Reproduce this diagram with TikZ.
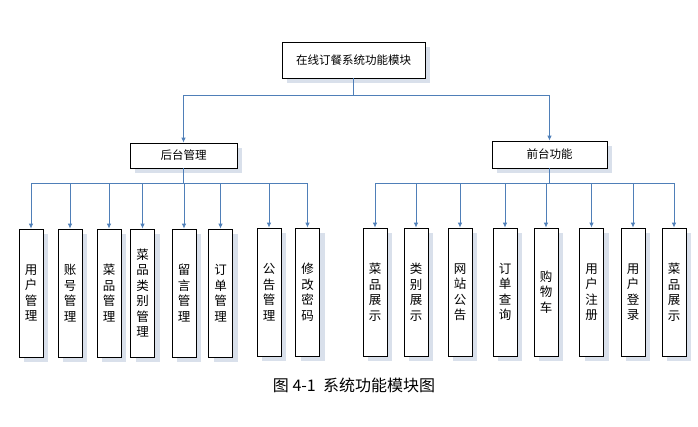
\documentclass[tikz,border=0pt]{standalone}
\usepackage{fontspec}
\setmainfont{Noto Sans CJK SC}
\usepackage{xcolor}
\usepackage{tikz}
\usetikzlibrary{arrows.meta,positioning,calc,shadows}

\definecolor{linkblue}{HTML}{4F7FB8}
\definecolor{shadowgray}{HTML}{D9E0EB}

\tikzset{
  modbox/.style={draw=black,fill=white,line width=0.8pt,inner sep=0pt,
    font=\fontsize{11.5}{14}\selectfont,
    drop shadow={shadow xshift=5pt,shadow yshift=-5pt,fill=shadowgray,opacity=1}},
  leafbox/.style={modbox,minimum width=24pt,minimum height=128pt,align=center,
    font=\fontsize{12.5}{15.5}\selectfont},
  link/.style={draw=linkblue,line width=0.8pt},
  arr/.style={link,-{Latex[length=5pt,width=4.5pt]}}
}

\begin{document}
\begin{tikzpicture}[x=1pt,y=-1pt]
  \useasboundingbox (0,0) rectangle (698,426);
  % top levels
  \node[modbox,minimum width=143pt,minimum height=36pt] (root) at (353.5,60) {在线订餐系统功能模块};
  \node[modbox,minimum width=107pt,minimum height=25pt] (back) at (183.5,155.5) {后台管理};
  \node[modbox,minimum width=115pt,minimum height=27pt] (front) at (549.5,154.5) {前台功能};
  % back end leaves
  \node[leafbox] (b1) at (31,293) {用\\户\\管\\理};
  \node[leafbox] (b2) at (70,293) {账\\号\\管\\理};
  \node[leafbox] (b3) at (109,293) {菜\\品\\管\\理};
  \node[leafbox] (b4) at (142.5,293) {菜\\品\\类\\别\\管\\理};
  \node[leafbox] (b5) at (184,293) {留\\言\\管\\理};
  \node[leafbox] (b6) at (220.5,293) {订\\单\\管\\理};
  \node[leafbox] (b7) at (269,292) {公\\告\\管\\理};
  \node[leafbox] (b8) at (307.5,292) {修\\改\\密\\码};
  % front end leaves
  \node[leafbox] (f1) at (375,292) {菜\\品\\展\\示};
  \node[leafbox] (f2) at (416,292) {类\\别\\展\\示};
  \node[leafbox] (f3) at (460,292) {网\\站\\公\\告};
  \node[leafbox] (f4) at (505,292) {订\\单\\查\\询};
  \node[leafbox] (f5) at (546,292) {购\\物\\车};
  \node[leafbox] (f6) at (591.5,292) {用\\户\\注\\册};
  \node[leafbox] (f7) at (633,292) {用\\户\\登\\录};
  \node[leafbox] (f8) at (674,292) {菜\\品\\展\\示};
  % connectors
  \coordinate (topbar) at (353.5,95);
  \draw[arr] (root.south) -- (topbar) -| (back.north);
  \draw[arr] (topbar) -| (front.north);
  \coordinate (backbar) at (183.5,183);
  \coordinate (frontbar) at (549.5,183);
  \draw[link] (back.south) -- (backbar);
  \draw[link] (front.south) -- (frontbar);
  \draw[arr] (backbar) -| (b1.north);
  \draw[arr] (backbar) -| (b2.north);
  \draw[arr] (backbar) -| (b3.north);
  \draw[arr] (backbar) -| (b4.north);
  \draw[arr] (backbar) -| (b5.north);
  \draw[arr] (backbar) -| (b6.north);
  \draw[arr] (backbar) -| (b7.north);
  \draw[arr] (backbar) -| (b8.north);
  \draw[arr] (frontbar) -| (f1.north);
  \draw[arr] (frontbar) -| (f2.north);
  \draw[arr] (frontbar) -| (f3.north);
  \draw[arr] (frontbar) -| (f4.north);
  \draw[arr] (frontbar) -| (f5.north);
  \draw[arr] (frontbar) -| (f6.north);
  \draw[arr] (frontbar) -| (f7.north);
  \draw[arr] (frontbar) -| (f8.north);
  % caption
  \node[font=\fontsize{16}{19}\selectfont] (caption) at (354,385) {图 4-1\ \ 系统功能模块图};
\end{tikzpicture}
\end{document}
